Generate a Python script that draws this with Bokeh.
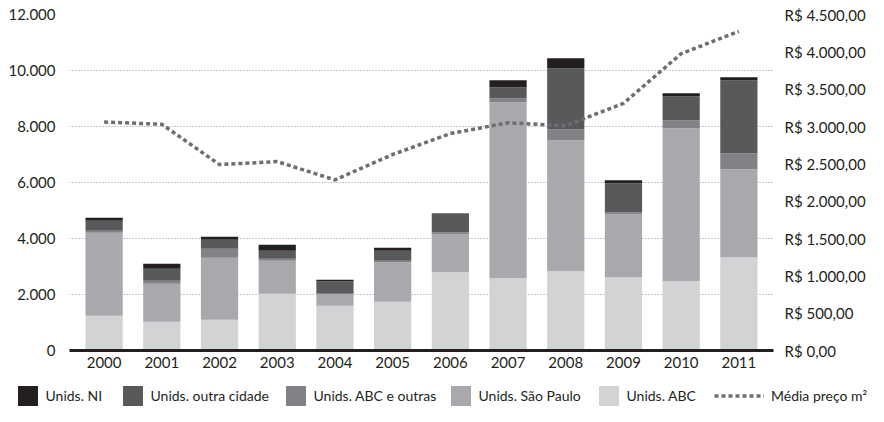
from bokeh.plotting import figure
from bokeh.layouts import column
from bokeh.models import (ColumnDataSource, FactorRange, Range1d, LinearAxis,
                          FixedTicker, Legend, LegendItem)
from bokeh.embed import file_html
from bokeh.resources import INLINE

# ---- data ----
years = ["2000", "2001", "2002", "2003", "2004", "2005",
         "2006", "2007", "2008", "2009", "2010", "2011"]
unids_abc = [1240, 1025, 1096, 2025, 1596, 1738, 2793, 2583, 2829, 2615, 2476, 3333]
unids_sao_paulo = [2965, 1357, 2214, 1178, 429, 1417, 1357, 6286, 4678, 2250, 5464, 3143]
unids_abc_outras = [70, 107, 322, 72, 0, 48, 72, 143, 393, 72, 286, 571]
unids_outra_cidade = [357, 429, 321, 285, 440, 357, 679, 393, 2179, 1035, 857, 2607]
unids_ni = [107, 178, 107, 215, 60, 107, 0, 250, 357, 107, 106, 106]
media_preco_m2 = [3060, 3030, 2490, 2530, 2285, 2625, 2905, 3050, 3010, 3310, 3975, 4275]

left_ticks = [0, 2000, 4000, 6000, 8000, 10000, 12000]
left_labels = ["0", "2.000", "4.000", "6.000", "8.000", "10.000", "12.000"]
right_ticks = [0, 500, 1000, 1500, 2000, 2500, 3000, 3500, 4000, 4500]
right_labels = ["R$ 0,00", "R$ 500,00", "R$ 1.000,00", "R$ 1.500,00", "R$ 2.000,00",
                "R$ 2.500,00", "R$ 3.000,00", "R$ 3.500,00", "R$ 4.000,00", "R$ 4.500,00"]

series_keys = ["abc", "sp", "abc_outras", "outra", "ni"]
series_labels = ["Unids. ABC", "Unids. São Paulo", "Unids. ABC e outras",
                 "Unids. outra cidade", "Unids. NI"]
series_colors = ["#d1d3d4", "#a7a9ac", "#808285", "#58595b", "#231f20"]
line_label = "Média preço m²"

FONT = "Lato"
TXT = "#231f20"
LINE_COLOR = "#6d6e71"
W = 868
H_MAIN = 378
H_LEG = 28

source = ColumnDataSource(dict(
    years=years, abc=unids_abc, sp=unids_sao_paulo, abc_outras=unids_abc_outras,
    outra=unids_outra_cidade, ni=unids_ni, preco=media_preco_m2))

p = figure(width=W, height=H_MAIN, output_backend="svg", toolbar_location=None,
           x_range=FactorRange(factors=years, range_padding=0.1,
                               range_padding_units="absolute"),
           y_range=Range1d(0, 12000),
           min_border_left=69, min_border_right=W - 780, min_border_top=14,
           min_border_bottom=H_MAIN - 350)
p.frame_align = False
p.extra_y_ranges = {"price": Range1d(0, 4500)}
p.outline_line_color = None

bars = p.vbar_stack(series_keys, x="years", width=0.645, source=source,
                    color=series_colors, line_width=0)

price_line = p.line(x="years", y="preco", source=source, y_range_name="price",
                    line_color=LINE_COLOR, line_width=3.5, line_dash="4 3",
                    line_join="round")

# grid
p.xgrid.visible = False
p.ygrid.ticker = FixedTicker(ticks=left_ticks)
p.ygrid.grid_line_color = "#939598"
p.ygrid.grid_line_dash = "1 2"
p.ygrid.grid_line_width = 1

# left axis
ya = p.yaxis[0]
ya.ticker = FixedTicker(ticks=left_ticks)
ya.major_label_overrides = {t: l for t, l in zip(left_ticks, left_labels)}
ya.axis_line_color = None
ya.major_tick_line_color = None
ya.minor_tick_line_color = None
ya.major_tick_out = 0
ya.major_tick_in = 0
ya.major_label_standoff = 14
ya.major_label_text_font = FONT
ya.major_label_text_font_size = "15px"
ya.major_label_text_color = TXT

# right axis
ra = LinearAxis(y_range_name="price", ticker=FixedTicker(ticks=right_ticks))
ra.major_label_overrides = {t: l for t, l in zip(right_ticks, right_labels)}
ra.axis_line_color = None
ra.major_tick_line_color = None
ra.minor_tick_line_color = None
ra.major_tick_out = 0
ra.major_tick_in = 0
ra.major_label_standoff = 11
ra.major_label_text_font = FONT
ra.major_label_text_font_size = "15px"
ra.major_label_text_color = TXT
p.add_layout(ra, "right")

# x axis
xa = p.xaxis[0]
xa.axis_line_color = "#231f20"
xa.axis_line_width = 3
xa.major_tick_line_color = None
xa.minor_tick_line_color = None
xa.major_tick_out = 0
xa.major_tick_in = 0
xa.major_label_standoff = 6
xa.major_label_text_font = FONT
xa.major_label_text_font_size = "15px"
xa.major_label_text_color = TXT

# ---- legend strip (separate figure; its renderers are hidden, only the
#      legend samples are shown) ----
leg = figure(width=W, height=H_LEG, output_backend="svg", toolbar_location=None,
             x_range=p.x_range, y_range=p.y_range,
             x_axis_type=None, y_axis_type=None,
             min_border_left=0, min_border_right=0, min_border_top=0,
             min_border_bottom=0)
leg.frame_align = False
leg.outline_line_color = None
leg.xgrid.visible = False
leg.ygrid.visible = False

leg_bars = leg.vbar_stack(series_keys, x="years", width=0.645, source=source,
                          color=series_colors, line_width=0)
for r in leg_bars:
    r.visible = False
leg_line = leg.line(x="years", y="preco", source=source,
                    line_color=LINE_COLOR, line_width=3.5, line_dash="4 3")
leg_line.visible = False

def add_legend(label, renderer, vx, gw, gh, standoff):
    lg = Legend(items=[LegendItem(label=label, renderers=[renderer])],
                location=(vx, -2), orientation="horizontal",
                glyph_width=gw, glyph_height=gh, label_height=gh,
                label_standoff=standoff, padding=0, margin=0, spacing=0,
                border_line_color=None, background_fill_alpha=0,
                inactive_fill_alpha=0,
                label_text_font=FONT, label_text_font_size="14px",
                label_text_color=TXT)
    leg.add_layout(lg, "center")

legend_x = {"ni": 14.5, "outra": 119.5, "abc_outras": 282.5, "sp": 447.5, "abc": 595.5}
for key, label, r in zip(series_keys, series_labels, leg_bars):
    add_legend(label, r, legend_x[key], 25, 25, 6)
add_legend(line_label, leg_line, 714, 50, 25, 7)

layout = column(p, leg, spacing=0)
open("out.html", "w").write(file_html(layout, INLINE))
